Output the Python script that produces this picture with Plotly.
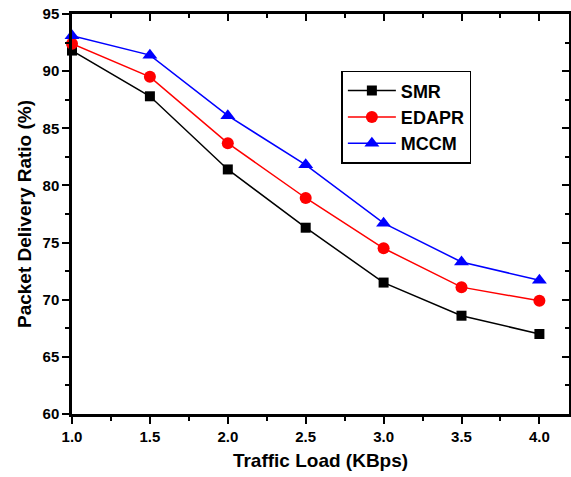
import plotly.graph_objects as go

x_load = [1.0, 1.5, 2.0, 2.5, 3.0, 3.5, 4.0]
smr = [91.8, 87.8, 81.4, 76.3, 71.5, 68.6, 67.0]
edapr = [92.4, 89.5, 83.7, 78.9, 74.5, 71.1, 69.9]
mccm = [93.1, 91.4, 86.1, 81.8, 76.7, 73.3, 71.7]

series = [
    ("SMR", smr, "black", "square", 10),
    ("EDAPR", edapr, "red", "circle", 12),
    ("MCCM", mccm, "blue", "triangle-up", 13),
]

fig = go.Figure()
for name, ys, col, sym, sz in series:
    fig.add_trace(go.Scatter(
        x=x_load, y=ys, name=name, mode="lines+markers",
        line=dict(color=col, width=1.5),
        marker=dict(symbol=sym, size=sz, color=col),
        cliponaxis=False,
    ))

fig.add_trace(go.Scatter(x=[x_load[0]], y=[smr[0]], xaxis="x2", yaxis="y2",
                         mode="markers", marker=dict(opacity=0), showlegend=False,
                         hoverinfo="skip"))

font_fam = "Liberation Sans, Arial, sans-serif"
xr = [1.0, 4.19]
yr = [60, 95]
xt = [1.0, 1.5, 2.0, 2.5, 3.0, 3.5, 4.0]
yt = [60, 65, 70, 75, 80, 85, 90, 95]
x_minor = [1.25, 1.75, 2.25, 2.75, 3.25, 3.75]
y_minor = [62.5, 67.5, 72.5, 77.5, 82.5, 87.5, 92.5]

common = dict(tickwidth=2, tickcolor="#000000", showline=True, linewidth=2.5,
              linecolor="#000000", showgrid=False, zeroline=False)

fig.update_layout(
    width=571, height=477,
    margin=dict(l=72, r=2, t=14, b=63),
    paper_bgcolor="#ffffff", plot_bgcolor="#ffffff",
    font=dict(family=font_fam, color="#000000", size=15),
    showlegend=True,
    legend=dict(
        x=0.542, y=0.858, xanchor="left", yanchor="top",
        bordercolor="#000000", borderwidth=1.5, bgcolor="#ffffff",
        font=dict(size=18, family=font_fam, weight="bold"),
        itemwidth=48, tracegroupgap=0,
    ),
    xaxis=dict(
        range=xr, tickvals=xt, ticktext=["%.1f" % v for v in xt],
        ticks="outside", ticklen=7,
        minor=dict(ticks="outside", ticklen=4, tickwidth=2, tickcolor="#000000", tickvals=x_minor),
        tickfont=dict(size=15, weight="bold"),
        title=dict(text="Traffic Load (KBps)", font=dict(size=19, weight="bold"), standoff=10),
        **common,
    ),
    yaxis=dict(
        range=yr, tickvals=yt,
        ticks="outside", ticklen=7,
        minor=dict(ticks="outside", ticklen=4, tickwidth=2, tickcolor="#000000", tickvals=y_minor),
        tickfont=dict(size=15, weight="bold"),
        title=dict(text="Packet Delivery Ratio (%)", font=dict(size=19, weight="bold"), standoff=6),
        **common,
    ),
    xaxis2=dict(
        overlaying="x", side="top", range=xr, anchor="y2",
        tickvals=xt, ticks="inside", ticklen=7,
        minor=dict(ticks="inside", ticklen=4, tickwidth=2, tickcolor="#000000", tickvals=x_minor),
        showticklabels=False, **common,
    ),
    yaxis2=dict(
        overlaying="y", side="right", range=yr, anchor="x2",
        tickvals=yt, ticks="inside", ticklen=7,
        minor=dict(ticks="inside", ticklen=4, tickwidth=2, tickcolor="#000000", tickvals=y_minor),
        showticklabels=False, **common,
    ),
)

fig.write_html("out.html")
